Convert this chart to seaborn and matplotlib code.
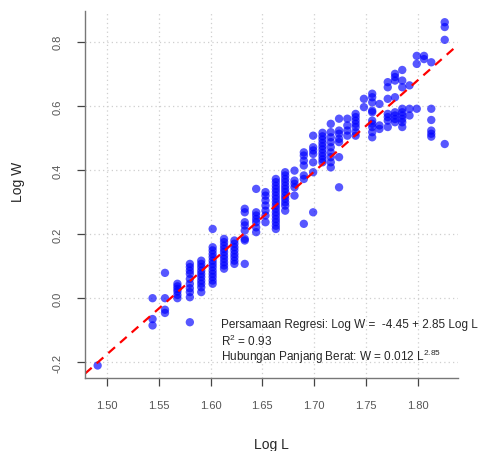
import numpy as np
import pandas as pd
import seaborn as sns
import matplotlib
matplotlib.use("Agg")
import matplotlib.pyplot as plt

# Log L column positions and the Log W values read in each column
log_l = [1.491, 1.544, 1.556, 1.568, 1.580, 1.591, 1.602, 1.613, 1.623, 1.633,
         1.644, 1.653, 1.663, 1.672, 1.681, 1.690, 1.699, 1.708, 1.716, 1.724,
         1.732, 1.740, 1.748, 1.756, 1.763, 1.771, 1.778, 1.785, 1.792, 1.799,
         1.806, 1.813, 1.826]
log_w = [
    [-0.21],
    [0.00, -0.065, -0.085],
    [0.079, 0.0, -0.036, -0.046],
    [0.045, 0.037, 0.029, 0.021, 0.010, 0.0],
    [0.107, 0.097, 0.086, 0.076, 0.060, 0.045, 0.031, 0.019, 0.003, -0.075],
    [0.117, 0.107, 0.097, 0.086, 0.076, 0.066, 0.055, 0.045, 0.034, 0.019],
    [0.216, 0.159, 0.149, 0.138, 0.128, 0.117, 0.107, 0.097, 0.086, 0.076, 0.066, 0.055, 0.045],
    [0.185, 0.175, 0.164, 0.154, 0.144, 0.133, 0.123, 0.112, 0.102, 0.092],
    [0.180, 0.170, 0.159, 0.149, 0.138, 0.128, 0.117, 0.107],
    [0.279, 0.268, 0.237, 0.227, 0.211, 0.185, 0.180, 0.107],
    [0.341, 0.268, 0.258, 0.247, 0.237, 0.221, 0.206],
    [0.331, 0.320, 0.305, 0.289, 0.273, 0.258, 0.237],
    [0.372, 0.362, 0.351, 0.341, 0.331, 0.320, 0.310, 0.299, 0.289, 0.279, 0.268, 0.258, 0.247, 0.237, 0.226, 0.216],
    [0.393, 0.383, 0.372, 0.362, 0.351, 0.341, 0.331, 0.320, 0.310, 0.299, 0.289, 0.273],
    [0.398, 0.367, 0.357, 0.346, 0.320],
    [0.455, 0.445, 0.429, 0.414, 0.383, 0.372, 0.232],
    [0.507, 0.471, 0.461, 0.450, 0.424, 0.393, 0.268],
    [0.516, 0.505, 0.495, 0.484, 0.474, 0.464, 0.453, 0.443, 0.433, 0.424],
    [0.544, 0.518, 0.502, 0.487, 0.471, 0.455, 0.440, 0.424, 0.408],
    [0.560, 0.523, 0.513, 0.497, 0.487, 0.440, 0.346],
    [0.560, 0.539, 0.523, 0.507],
    [0.575, 0.565, 0.554, 0.544, 0.534, 0.518, 0.507],
    [0.622, 0.596],
    [0.638, 0.627, 0.611, 0.585, 0.580, 0.554, 0.544, 0.534, 0.518, 0.502],
    [0.606, 0.539, 0.528],
    [0.674, 0.658, 0.622, 0.575, 0.565, 0.554, 0.534],
    [0.700, 0.690, 0.679, 0.627, 0.580, 0.570, 0.559, 0.549],
    [0.712, 0.679, 0.658, 0.591, 0.580, 0.570, 0.559, 0.549, 0.534],
    [0.664, 0.591, 0.570],
    [0.756, 0.731, 0.591],
    [0.756, 0.746],
    [0.736, 0.591, 0.556, 0.523, 0.513, 0.504],
    [0.861, 0.846, 0.806, 0.481],
]

# regression from the annotation
intercept = -4.45
slope = 2.85
r2 = 0.93
a_coef = 0.012

x_ticks = [1.50, 1.55, 1.60, 1.65, 1.70, 1.75, 1.80]
y_ticks = [-0.2, 0.0, 0.2, 0.4, 0.6, 0.8]

df = pd.DataFrame({
    "logL": np.repeat(log_l, [len(v) for v in log_w]),
    "logW": np.concatenate(log_w),
})

sns.set_style("white")
plt.rcParams["font.family"] = ["Liberation Sans", "DejaVu Sans"]
plt.rcParams["mathtext.default"] = "regular"

fig = plt.figure(figsize=(4.88, 4.52), dpi=100)
ax = fig.add_axes([85 / 488, 1 - 379 / 452, 373 / 488, 367 / 452])

# light dotted grid like R's grid()
ax.grid(True, linestyle=(0, (1, 2.5)), color="#cfcfcf", linewidth=0.9)
ax.set_axisbelow(True)

sns.scatterplot(data=df, x="logL", y="logW", ax=ax, color="#0000ff",
                alpha=0.66, s=36, edgecolor="none", linewidth=0)

xlim = (1.4788, 1.8388)
ylim = (-0.249, 0.896)
xl = np.array(xlim)
ax.plot(xl, intercept + slope * xl, color="red", linestyle=(0, (4, 3)), linewidth=1.6)
ax.set_xlim(*xlim)
ax.set_ylim(*ylim)

ax.set_xticks(x_ticks)
ax.set_xticklabels([f"{v:.2f}" for v in x_ticks])
ax.set_yticks(y_ticks)
ax.set_yticklabels([f"{v:.1f}" for v in y_ticks])

for side in ["top", "right"]:
    ax.spines[side].set_visible(False)
for side in ["left", "bottom"]:
    ax.spines[side].set_color("#777777")
    ax.spines[side].set_linewidth(1.0)

ax.tick_params(axis="both", direction="out", length=6, width=0.9, color="#444444",
               labelsize=8, labelcolor="#555555", bottom=True, left=True)
ax.tick_params(axis="x", pad=10)
ax.tick_params(axis="y", pad=10, labelrotation=90)
for lab in ax.get_yticklabels():
    lab.set_va("center")

ax.set_xlabel("Log L", fontsize=10)
ax.set_ylabel("Log W", fontsize=10)
ax.xaxis.set_label_coords(0.501, -0.18)
ax.xaxis.label.set_va("center")
ax.yaxis.set_label_coords(-0.18, 0.537)
ax.yaxis.label.set_va("center")

tx = 1.610
ax.text(tx, -0.082, "Persamaan Regresi: Log W =  %.2f + %.2f Log L" % (intercept, slope),
        fontsize=8.5, va="center", ha="left")
ax.text(tx, -0.132, r"R$^2$ = %.2f" % r2, fontsize=8.5, va="center", ha="left")
ax.text(tx, -0.180, r"Hubungan Panjang Berat: W = %.3f L$^{%.2f}$" % (a_coef, slope),
        fontsize=8.5, va="center", ha="left")

fig.savefig("out.png", dpi=100)
